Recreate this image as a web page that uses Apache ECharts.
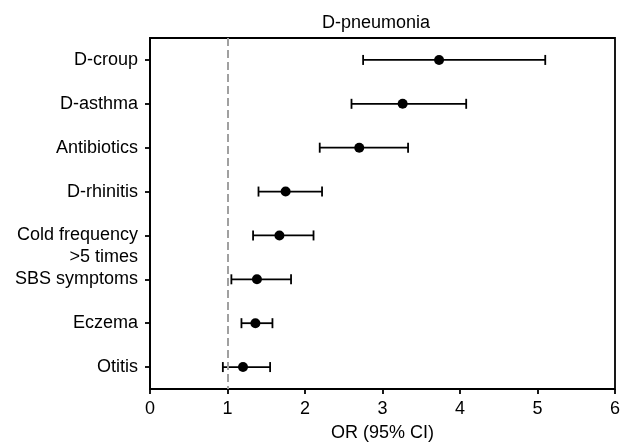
<!DOCTYPE html>
<html>
<head>
<meta charset="utf-8">
<script src="https://cdn.jsdelivr.net/npm/echarts@6/dist/echarts.min.js"></script>
<style>
  html, body { margin: 0; padding: 0; background: #fff; }
  #main { width: 622px; height: 444px; }
</style>
</head>
<body>
<div id="main"></div>
<script>
// factors, top to bottom
var factors = ['D-croup', 'D-asthma', 'Antibiotics', 'D-rhinitis', 'Cold frequency\n>5 times', 'SBS symptoms', 'Eczema', 'Otitis'];
var orValues = [3.73, 3.26, 2.70, 1.75, 1.67, 1.38, 1.36, 1.20];
var ciLow = [2.75, 2.60, 2.19, 1.40, 1.33, 1.05, 1.18, 0.94];
var ciHigh = [5.10, 4.08, 3.33, 2.22, 2.11, 1.82, 1.58, 1.55];
var xTicks = [0, 1, 2, 3, 4, 5, 6];

var font = '"Liberation Sans", Arial, sans-serif';

var pointData = [];
var barData = [];
for (var i = 0; i < factors.length; i++) {
    pointData.push([orValues[i], i]);
    barData.push([i, ciLow[i], ciHigh[i]]);
}

var myChart = echarts.init(document.getElementById('main'));
var option = {
    animation: false,
    title: {
        text: 'D-pneumonia',
        left: 322,
        top: 14,
        padding: 0,
        textStyle: { fontFamily: font, fontSize: 18, fontWeight: 'normal', color: '#000' }
    },
    grid: {
        left: 150,
        right: 7,
        top: 38,
        bottom: 55,
        outerBoundsMode: 'none',
        show: true,
        borderColor: '#000',
        borderWidth: 1.8
    },
    xAxis: {
        type: 'value',
        min: xTicks[0],
        max: xTicks[xTicks.length - 1],
        interval: 1,
        name: 'OR (95% CI)',
        nameLocation: 'middle',
        nameGap: 35,
        nameTextStyle: { fontFamily: font, fontSize: 18, color: '#000' },
        axisLine: { lineStyle: { color: '#000', width: 1.8 } },
        axisTick: { show: true, inside: false, length: 5, lineStyle: { color: '#000', width: 1.8 } },
        axisLabel: { fontFamily: font, fontSize: 18, color: '#000', margin: 11 },
        splitLine: { show: false }
    },
    yAxis: {
        type: 'category',
        inverse: true,
        data: factors,
        axisLine: { lineStyle: { color: '#000', width: 1.8 } },
        axisTick: { show: true, inside: false, alignWithLabel: true, length: 5, lineStyle: { color: '#000', width: 1.8 } },
        axisLabel: {
            interval: 0,
            fontFamily: font,
            fontSize: 18,
            lineHeight: 22,
            color: '#000',
            margin: 12,
            formatter: function(v) {
                // keep the first line level with the tick
                return v.indexOf('\n') >= 0 ? '\n' + v : v;
            }
        }
    },
    series: [{
            type: 'custom',
            name: 'CI',
            data: barData,
            encode: { x: [1, 2], y: 0 },
            renderItem: function(params, api) {
                var lo = api.coord([api.value(1), api.value(0)]);
                var hi = api.coord([api.value(2), api.value(0)]);
                var cap = 5;
                var style = { stroke: '#000', lineWidth: 1.8 };
                return {
                    type: 'group',
                    children: [
                        { type: 'line', shape: { x1: lo[0], y1: lo[1], x2: hi[0], y2: hi[1] }, style: style },
                        { type: 'line', shape: { x1: lo[0], y1: lo[1] - cap, x2: lo[0], y2: lo[1] + cap }, style: style },
                        { type: 'line', shape: { x1: hi[0], y1: hi[1] - cap, x2: hi[0], y2: hi[1] + cap }, style: style }
                    ]
                };
            },
            z: 2
        },
        {
            type: 'scatter',
            name: 'OR',
            data: pointData,
            symbol: 'circle',
            symbolSize: 10,
            itemStyle: { color: '#000', opacity: 1 },
            z: 3,
            markLine: {
                silent: true,
                symbol: 'none',
                label: { show: false },
                lineStyle: { color: '#a0a0a0', width: 2, type: [8, 4] },
                data: [{ xAxis: 1 }]
            }
        }
    ]
};
myChart.setOption(option);
</script>
</body>
</html>
